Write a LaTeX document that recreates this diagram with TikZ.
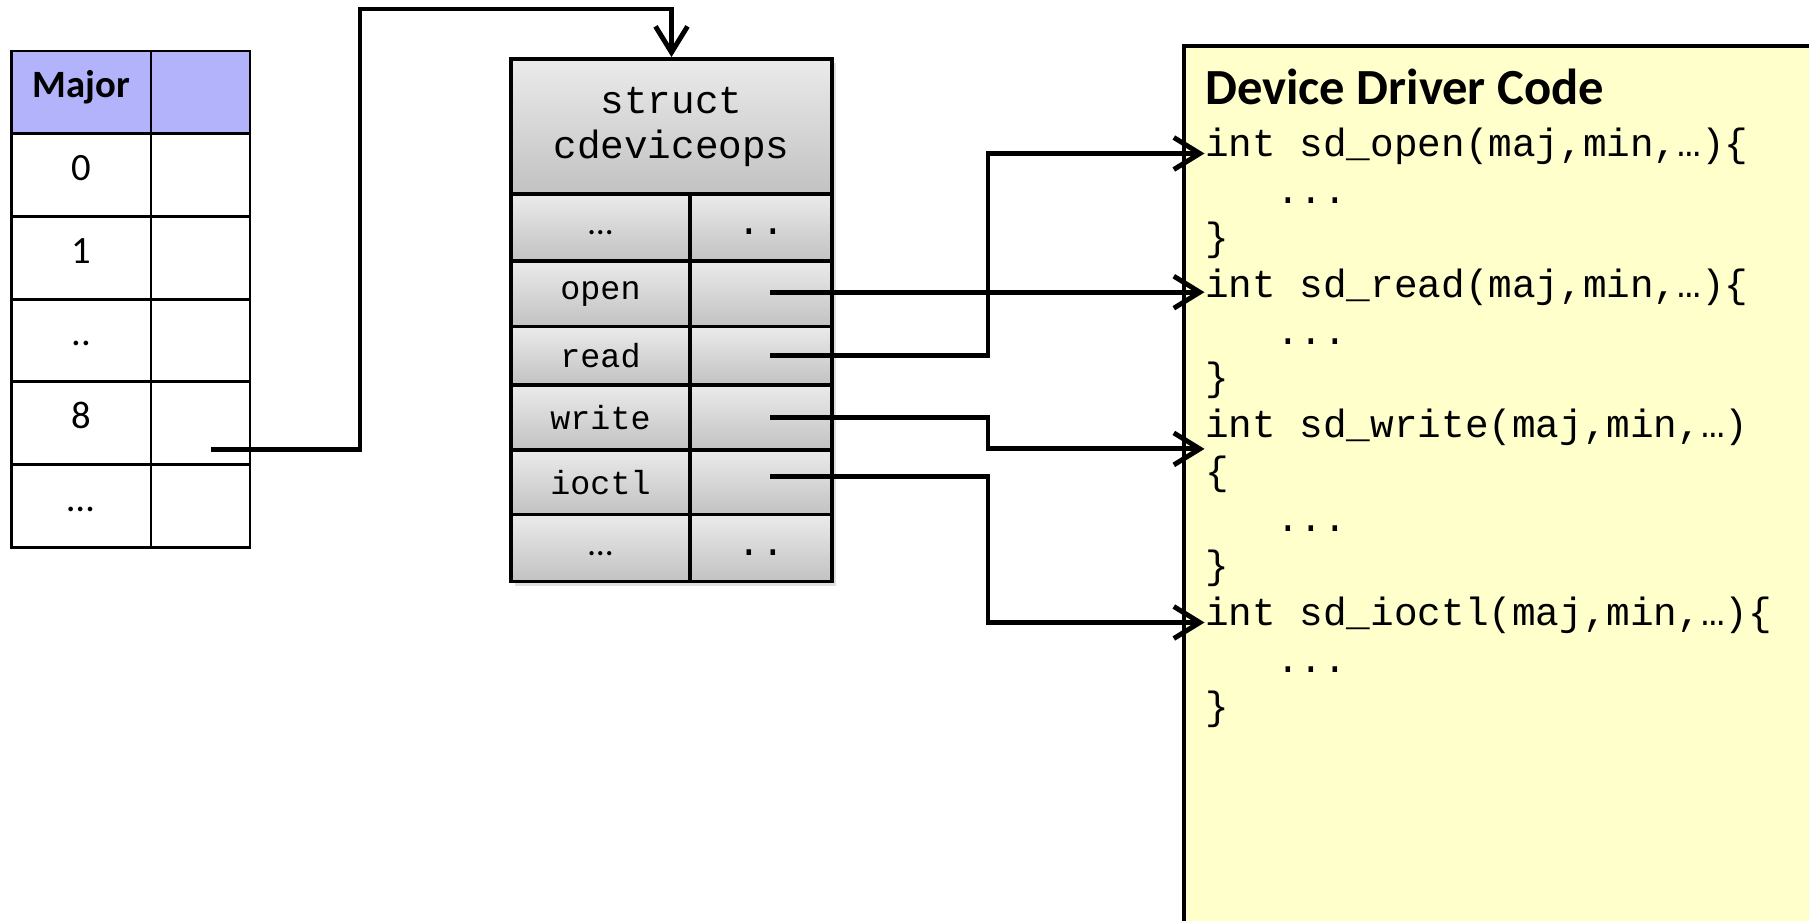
\documentclass[tikz,border=0pt]{standalone}
\usepackage{fontspec}
\setmainfont{Carlito}
\newfontfamily\codefont{Liberation Mono}
\usetikzlibrary{arrows.meta}

\definecolor{majorblue}{HTML}{B3B3FB}
\definecolor{codeyellow}{HTML}{FFFFCC}

\tikzset{
  cell/.style={draw, line width=0.8pt, inner sep=0pt, text height=7pt, text depth=4pt,
    font=\fontsize{11}{13}\selectfont},
  kcell/.style={cell, minimum width=1.395cm, minimum height=0.827cm},
  pcell/.style={cell, minimum width=0.99cm, minimum height=0.827cm},
  opsbox/.style={draw, line width=1.1pt, inner sep=0pt, top color=gray!16, bottom color=gray!48},
  lcell/.style={opsbox, minimum width=1.79cm, font=\codefont\fontsize{9.5}{11}\selectfont},
  rcell/.style={opsbox, minimum width=1.42cm, font=\codefont\fontsize{11.2}{13}\selectfont},
  dotcell/.style={text height=4pt, text depth=0pt},
  codeline/.style={anchor=base west, inner sep=0pt, yshift=-0.55mm,
    font=\codefont\fontsize{11.2}{13.3}\selectfont},
  ptr/.style={line width=1.4pt, -{Straight Barb[length=2.6mm,width=3.2mm]}},
}

\begin{document}
\begin{tikzpicture}
        \useasboundingbox (0,0) rectangle (18.09,-9.21);

        % major number table
        \draw (0.8125,-0.9235) node[kcell,fill=majorblue] (hkey) {\bfseries Major};
        \draw (2.005,-0.9235) node[pcell,fill=majorblue] (hptr) {};
        \draw (0.8125,-1.7505) node[kcell] (k0) {0};
        \draw (2.005,-1.7505) node[pcell] (p0) {};
        \draw (0.8125,-2.5775) node[kcell] (k1) {1};
        \draw (2.005,-2.5775) node[pcell] (p1) {};
        \draw (0.8125,-3.4045) node[kcell] (kdots) {..};
        \draw (2.005,-3.4045) node[pcell] (pdots) {};
        \draw (0.8125,-4.2315) node[kcell] (k8) {8};
        \draw (2.005,-4.2315) node[pcell] (p8) {};
        \draw (0.8125,-5.0585) node[kcell] (kmore) {…};
        \draw (2.005,-5.0585) node[pcell] (pmore) {};

        % struct cdeviceops
        \fill[black!25,opacity=0.5] (5.15,-0.63) rectangle (8.36,-5.86);
        \draw (6.715,-1.265) node[opsbox,minimum width=3.21cm,minimum height=1.35cm,
          align=center,font=\codefont\fontsize{11.2}{12.8}\selectfont] (ops) {struct\\cdeviceops};
        \draw (6.005,-2.275) node[lcell,dotcell,minimum height=0.67cm] (lfirst) {\rmfamily\fontsize{10}{12}\selectfont …};
        \draw (7.61,-2.275) node[rcell,dotcell,minimum height=0.67cm] (rfirst) {..};
        \draw (6.005,-2.9375) node[lcell,minimum height=0.655cm] (lopen) {open};
        \draw (7.61,-2.9375) node[rcell,minimum height=0.655cm] (ropen) {};
        \draw (6.005,-3.559) node[lcell,minimum height=0.588cm] (lread) {read};
        \draw (7.61,-3.559) node[rcell,minimum height=0.588cm] (rread) {};
        \draw (6.005,-4.1765) node[lcell,minimum height=0.647cm] (lwrite) {write};
        \draw (7.61,-4.1765) node[rcell,minimum height=0.647cm] (rwrite) {};
        \draw (6.005,-4.8225) node[lcell,minimum height=0.645cm] (lioctl) {ioctl};
        \draw (7.61,-4.8225) node[rcell,minimum height=0.645cm] (rioctl) {};
        \draw (6.005,-5.48) node[lcell,dotcell,minimum height=0.67cm] (llast) {\rmfamily\fontsize{10}{12}\selectfont …};
        \draw (7.61,-5.48) node[rcell,dotcell,minimum height=0.67cm] (rlast) {..};

        % device driver code
        \draw[line width=1pt,fill=codeyellow] (11.84,-0.46) rectangle (18.4,-9.5);
        \draw (12.045,-1.05) node[anchor=base west,inner sep=0pt,
          font=\bfseries\fontsize{14.4}{17}\selectfont] (title) {Device Driver Code};
        \draw (12.045,-1.510) node[codeline] (fopen) {int sd\_open(maj,min,…)\{};
        \draw (12.045,-1.979) node[codeline] (bopen) {\phantom{xxx}...};
        \draw (12.045,-2.448) node[codeline] (eopen) {\}};
        \draw (12.045,-2.917) node[codeline] (fread) {int sd\_read(maj,min,…)\{};
        \draw (12.045,-3.386) node[codeline] (bread) {\phantom{xxx}...};
        \draw (12.045,-3.855) node[codeline] (eread) {\}};
        \draw (12.045,-4.324) node[codeline] (fwrite) {int sd\_write(maj,min,…)};
        \draw (12.045,-4.793) node[codeline] (owrite) {\{};
        \draw (12.045,-5.262) node[codeline] (bwrite) {\phantom{xxx}...};
        \draw (12.045,-5.731) node[codeline] (ewrite) {\}};
        \draw (12.045,-6.200) node[codeline] (fioctl) {int sd\_ioctl(maj,min,…)\{};
        \draw (12.045,-6.669) node[codeline] (bioctl) {\phantom{xxx}...};
        \draw (12.045,-7.138) node[codeline] (eioctl) {\}};

        % pointers
        \coordinate (bend) at (3.60,-0.09);
        \coordinate (bus) at (9.88,0);
        \draw[ptr] ([xshift=1mm,yshift=-2.6mm]p8.center) -| (bend) -| (ops.north);
        \draw[ptr] ([xshift=0.9mm,yshift=0.5mm]ropen.center |- fread.base) -- ([yshift=0.5mm]fread.base west);
        \draw[ptr] ([xshift=0.9mm]rread.center) -- (rread.center -| bus) |- ([yshift=0.3mm]fopen.base west);
        \draw[ptr] ([xshift=0.9mm]rwrite.center) -- (rwrite.center -| bus) |- ([yshift=-1.1mm]fwrite.base west);
        \draw[ptr] ([xshift=0.9mm,yshift=0.6mm]rioctl.center) -- ([yshift=0.6mm]rioctl.center -| bus) |- ([yshift=0.3mm]fioctl.base west);
\end{tikzpicture}
\end{document}
